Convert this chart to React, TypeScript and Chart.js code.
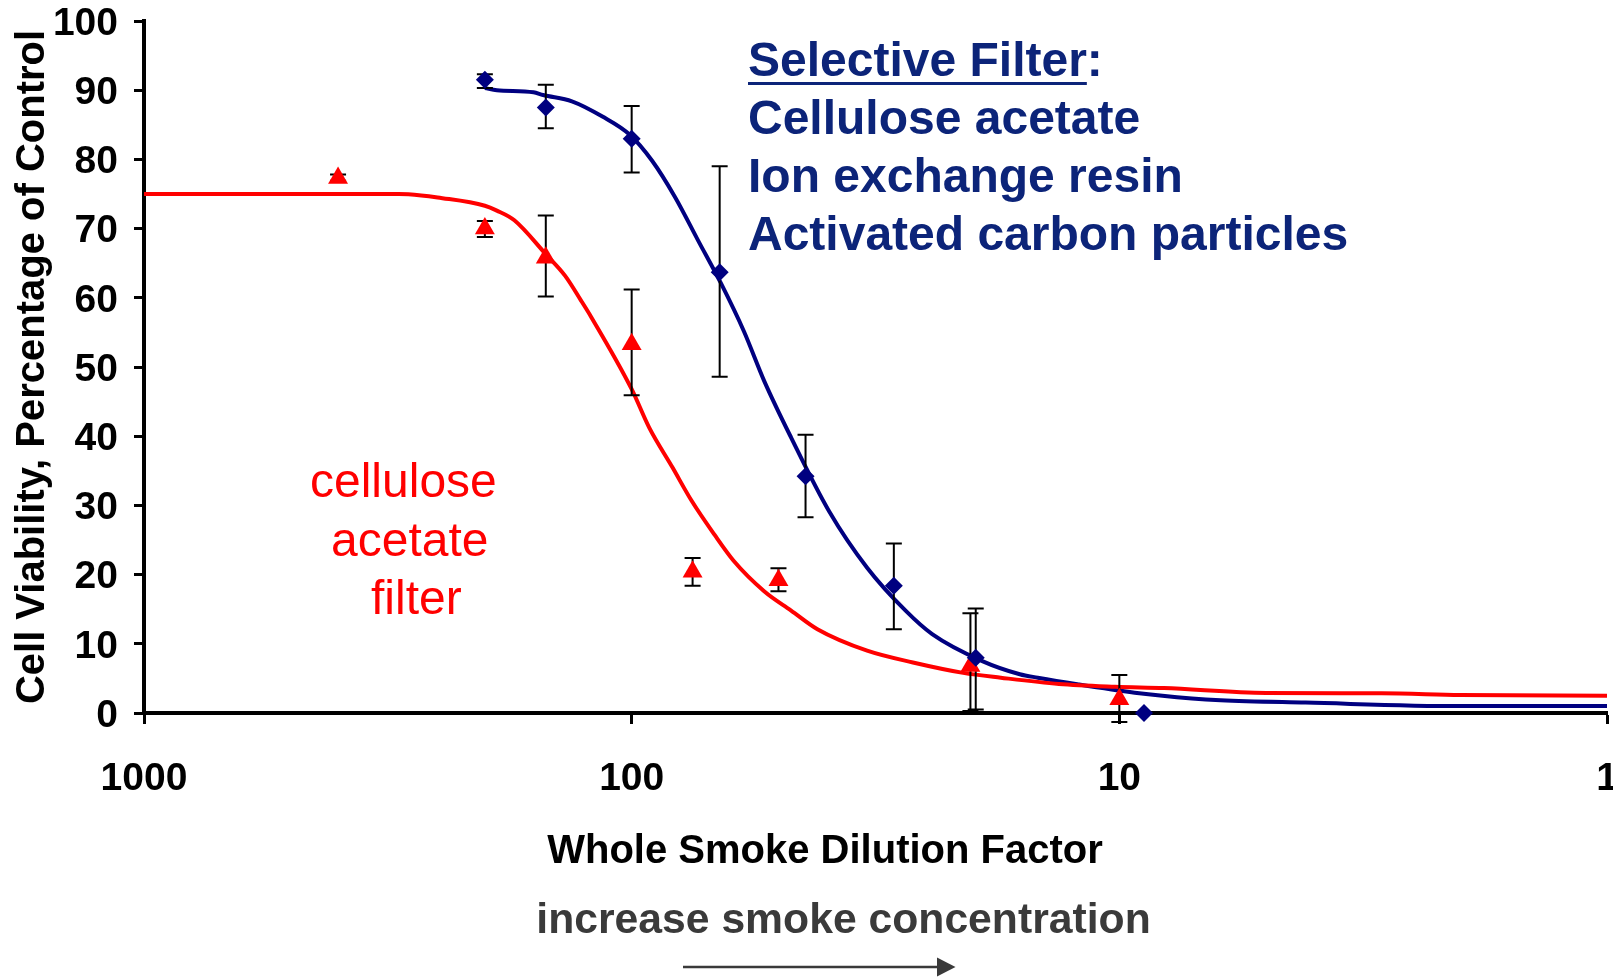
import React, { useEffect, useRef } from "react";
import { Chart, registerables } from "chart.js";

Chart.register(...registerables);

const FONT = '"Liberation Sans", Arial, Helvetica, sans-serif';

// ---- measured data points (dilution factor, % viability) ----
const redX = [400, 200, 150, 100, 75, 50, 20.2, 10];
const redY = [77.3, 70.0, 65.8, 53.3, 20.4, 19.2, 6.8, 2.0];
const redLow = [76.9, 68.8, 60.2, 45.9, 18.4, 17.6, 0.3, -1.3];
const redHigh = [77.8, 71.1, 71.9, 61.2, 22.4, 20.9, 14.4, 5.5];

const blueX = [200, 150, 100, 66, 44, 29, 19.7, 8.9];
const blueY = [91.5, 87.5, 83.0, 63.7, 34.2, 18.4, 8.0, 0.0];
const blueLow = [90.3, 84.5, 78.1, 48.6, 28.3, 12.1, 0.5, null];
const blueHigh = [92.3, 90.8, 87.7, 79.0, 40.2, 24.5, 15.1, null];

// ---- fitted curves ----
const redCurveX = [1000, 400, 300, 270, 250, 200, 189, 174, 150, 137, 127, 121, 100, 92, 82.5, 75.4, 67.7, 61.8, 53.5, 47.1, 41.6, 32.9, 26.5, 20.9, 17.5, 13.3, 10.2, 8.1, 5.0, 2.9, 2.0, 1];
const redCurveY = [75.0, 75.0, 75.0, 74.8, 74.5, 73.3, 72.6, 71.2, 66.3, 63.2, 59.6, 57.2, 46.8, 41.2, 35.5, 30.7, 25.8, 22.0, 17.6, 14.8, 12.1, 9.0, 7.3, 5.8, 5.1, 4.2, 3.8, 3.6, 2.9, 2.85, 2.6, 2.5];

const blueCurveX = [200, 189, 159, 152, 132.6, 114.8, 101, 90.8, 81.4, 73.1, 65.5, 58.9, 53.5, 47.1, 39.4, 32.9, 27.4, 24.2, 19.1, 16, 14.7, 12.2, 9.3, 7.1, 6.2, 4.15, 2.0, 1];
const blueCurveY = [90.3, 90.0, 89.7, 89.3, 88.4, 86.2, 83.6, 79.8, 74.5, 68.3, 62.0, 55.2, 48.0, 39.8, 29.2, 21.0, 14.75, 11.4, 7.5, 5.6, 5.1, 4.15, 2.94, 2.1, 1.84, 1.5, 1.0, 1.0];

// ---- axes / text ----
const xTickValues = [1000, 100, 10, 1];
const yTitle = "Cell Viability, Percentage of Control";
const xTitle = "Whole Smoke Dilution Factor";
const directionText = "increase smoke concentration";
const selectiveHeading = "Selective Filter";
const selectiveLines = ["Cellulose acetate", "Ion exchange resin", "Activated carbon particles"];
const celluloseLines = ["cellulose", "acetate", "filter"];

const RED = "#ff0000";
const NAVY = "#000080";
const NAVY_TEXT = "#0c2479";
const GRAY = "#3a3a3a";

const zip = (xs: number[], ys: number[]) => xs.map((x, i) => ({ x, y: ys[i] }));

const errorBarPlugin = {
  id: "errorBars",
  afterDatasetDraw(chart: any, args: any) {
    if (args.index !== 2) return;
    const ctx = chart.ctx;
    const xs = chart.scales.x;
    const ys = chart.scales.y;
    ctx.save();
    ctx.strokeStyle = "#000";
    ctx.lineWidth = 2;
    const draw = (X: number[], lo: (number | null)[], hi: (number | null)[]) => {
      X.forEach((x, i) => {
        const l = lo[i];
        const h = hi[i];
        if (l == null || h == null) return;
        const px = xs.getPixelForValue(x);
        const p1 = ys.getPixelForValue(l);
        const p2 = ys.getPixelForValue(h);
        ctx.beginPath();
        ctx.moveTo(px, p1);
        ctx.lineTo(px, p2);
        ctx.moveTo(px - 8, p1);
        ctx.lineTo(px + 8, p1);
        ctx.moveTo(px - 8, p2);
        ctx.lineTo(px + 8, p2);
        ctx.stroke();
      });
    };
    draw(redX, redLow, redHigh);
    draw(blueX, blueLow, blueHigh);
    ctx.restore();
  },
};

const annotationPlugin = {
  id: "annotations",
  afterDraw(chart: any) {
    const ctx = chart.ctx;
    ctx.save();
    ctx.textBaseline = "alphabetic";

    // Selective filter block
    ctx.fillStyle = NAVY_TEXT;
    ctx.strokeStyle = NAVY_TEXT;
    ctx.font = `bold 48px ${FONT}`;
    ctx.textAlign = "left";
    const left = 748;
    ctx.fillText(selectiveHeading, left, 76);
    const hw = ctx.measureText(selectiveHeading).width;
    ctx.fillText(":", left + hw, 76);
    ctx.lineWidth = 3;
    ctx.beginPath();
    ctx.moveTo(left, 83.5);
    ctx.lineTo(left + hw, 83.5);
    ctx.stroke();
    const baselines = [133.5, 191.5, 249.5];
    selectiveLines.forEach((t, i) => ctx.fillText(t, left, baselines[i]));

    // cellulose acetate filter label
    ctx.fillStyle = RED;
    ctx.font = `48px ${FONT}`;
    const redLefts = [310, 331, 371];
    const redBase = [497, 555.5, 613.5];
    celluloseLines.forEach((t, i) => ctx.fillText(t, redLefts[i], redBase[i]));

    // x title
    ctx.fillStyle = "#000";
    ctx.font = `bold 40px ${FONT}`;
    ctx.textAlign = "center";
    ctx.fillText(xTitle, 825, 863);

    // direction text and arrow
    ctx.fillStyle = GRAY;
    ctx.font = `bold 42.7px ${FONT}`;
    ctx.fillText(directionText, 843.5, 933);
    ctx.strokeStyle = GRAY;
    ctx.lineWidth = 2.5;
    ctx.beginPath();
    ctx.moveTo(683, 967);
    ctx.lineTo(940, 967);
    ctx.stroke();
    ctx.beginPath();
    ctx.moveTo(937, 957.5);
    ctx.lineTo(955.5, 967);
    ctx.lineTo(937, 976.5);
    ctx.closePath();
    ctx.fill();
    ctx.restore();
  },
};

export default function App() {
  const ref = useRef<HTMLCanvasElement>(null);

  useEffect(() => {
    if (!ref.current) return;
    const chart = new Chart(ref.current, {
      type: "scatter",
      data: {
        datasets: [
          {
            label: "Selective filter",
            data: zip(blueX, blueY),
            pointStyle: "rectRot",
            pointRadius: 9,
            backgroundColor: NAVY,
            borderColor: NAVY,
            borderWidth: 0,
            showLine: false,
            clip: false,
          },
          {
            label: "Cellulose acetate filter",
            data: zip(redX, redY),
            pointStyle: "triangle",
            pointRadius: 11.5,
            backgroundColor: RED,
            borderColor: RED,
            borderWidth: 0,
            showLine: false,
            clip: false,
          },
          {
            label: "Cellulose acetate fit",
            data: zip(redCurveX, redCurveY),
            showLine: true,
            borderColor: RED,
            borderWidth: 4,
            pointRadius: 0,
            cubicInterpolationMode: "monotone",
            fill: false,
            clip: false,
          },
          {
            label: "Selective filter fit",
            data: zip(blueCurveX, blueCurveY),
            showLine: true,
            borderColor: NAVY,
            borderWidth: 4,
            pointRadius: 0,
            cubicInterpolationMode: "monotone",
            fill: false,
            clip: false,
          },
        ],
      },
      options: {
        animation: false,
        responsive: false,
        maintainAspectRatio: false,
        devicePixelRatio: 1,
        layout: { autoPadding: false, padding: { top: 21, right: 6, bottom: 0, left: 0 } },
        plugins: {
          legend: { display: false },
          tooltip: { enabled: false },
        },
        scales: {
          x: {
            type: "logarithmic",
            reverse: true,
            min: 1,
            max: 1000,
            border: { display: true, color: "#000", width: 4 },
            grid: {
              display: true,
              drawOnChartArea: false,
              drawTicks: true,
              tickLength: 11,
              tickWidth: 3,
              tickColor: "#000",
            },
            ticks: {
              color: "#000",
              font: { family: FONT, size: 39, weight: "bold" },
              padding: 32,
              maxRotation: 0,
              autoSkip: false,
              callback: (v: any) => String(v),
            },
            afterBuildTicks: (s: any) => {
              s.ticks = xTickValues.map((v) => ({ value: v }));
            },
            afterFit: (s: any) => {
              s.height = 978 - 713;
              s.paddingLeft = 0;
              s.paddingRight = 0;
            },
          },
          y: {
            type: "linear",
            min: 0,
            max: 100,
            border: { display: true, color: "#000", width: 4 },
            grid: {
              display: true,
              drawOnChartArea: false,
              drawTicks: true,
              tickLength: 10,
              tickWidth: 3,
              tickColor: "#000",
            },
            ticks: {
              stepSize: 10,
              color: "#000",
              font: { family: FONT, size: 39, weight: "bold" },
              padding: 16,
              labelOffset: 3,
            },
            title: {
              display: true,
              text: yTitle,
              color: "#000",
              font: { family: FONT, size: 40, weight: "bold" },
              padding: { top: 9, bottom: 0 },
            },
            afterFit: (s: any) => {
              s.width = 144;
              s.paddingTop = 0;
              s.paddingBottom = 0;
            },
          },
        },
      },
      plugins: [errorBarPlugin, annotationPlugin],
    } as any);
    return () => chart.destroy();
  }, []);

  return (
    <div style={{ position: "fixed", left: 0, top: 0, width: 1613, height: 978, background: "#fff" }}>
      <canvas ref={ref} width={1613} height={978} style={{ display: "block", width: 1613, height: 978 }} />
    </div>
  );
}
